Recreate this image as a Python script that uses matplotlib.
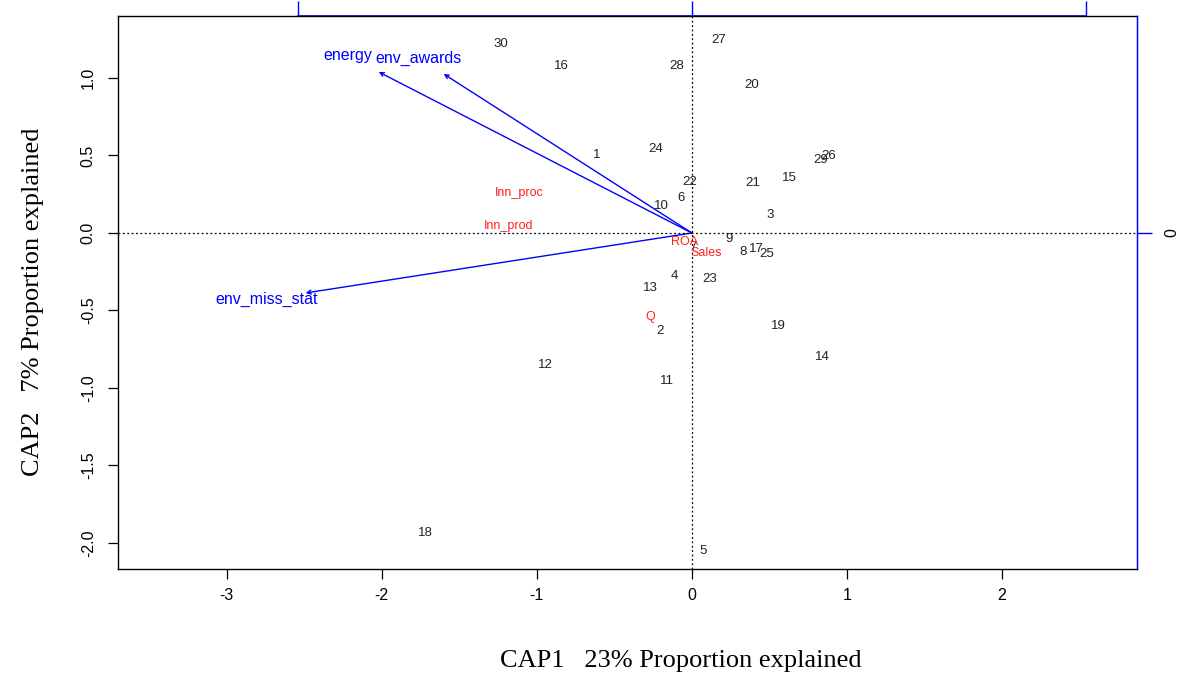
import matplotlib
matplotlib.use('Agg')
import matplotlib.pyplot as plt
from matplotlib.patches import FancyArrowPatch

# ---- data ----
site_ids = [str(i) for i in range(1, 31)]
site_x = [-0.613, -0.206, 0.503, -0.110, 0.071, -0.071, 0.006, 0.329, 0.239, -0.194,
          -0.161, -0.942, -0.265, 0.839, 0.632, -0.839, 0.413, -1.716, 0.561, 0.387,
          0.394, -0.013, 0.116, -0.232, 0.484, 0.884, 0.174, -0.097, 0.832, -1.232]
site_y = [0.503, -0.632, 0.116, -0.277, -2.052, 0.226, -0.09, -0.123, -0.039, 0.174,
          -0.955, -0.852, -0.355, -0.800, 0.355, 1.077, -0.103, -1.935, -0.600, 0.955,
          0.323, 0.329, -0.297, 0.542, -0.135, 0.497, 1.245, 1.077, 0.471, 1.219]

spec_names = ["Inn_proc", "Inn_prod", "ROA", "Sales", "Q"]
spec_x = [-1.110, -1.181, -0.045, 0.090, -0.271]
spec_y = [0.258, 0.045, -0.058, -0.129, -0.542]

env_names = ["energy", "env_awards", "env_miss_stat"]
env_x = [-2.019, -1.600, -2.490]
env_y = [1.039, 1.026, -0.387]
label_mult = 1.1

arrow_scale = 2.54
top_ticks = [-1, 0, 1]
right_ticks = [0]

x_ticks = [-3, -2, -1, 0, 1, 2]
y_ticks = [-2.0, -1.5, -1.0, -0.5, 0.0, 0.5, 1.0]
xlabel = "CAP1   23% Proportion explained"
ylabel = "CAP2   7% Proportion explained"

# ---- figure ----
fig = plt.figure(figsize=(11.83, 6.77), dpi=100)
ax = fig.add_axes([118/1183, 1-569/677, (1137-118)/1183, (569-16)/677])
ax.set_xlim(-3.70, 2.87)
ax.set_ylim(-2.168, 1.40)

ax.axhline(0, color='black', ls=(0, (1.5, 2)), lw=0.9)
ax.axvline(0, color='black', ls=(0, (1.5, 2)), lw=0.9)

for s, x, y in zip(site_ids, site_x, site_y):
    ax.text(x, y, s, fontsize=9.5, color='#222222', ha='center', va='center',
            family='Liberation Sans')

for s, x, y in zip(spec_names, spec_x, spec_y):
    ax.text(x, y, s, fontsize=9, color='#ff2020', ha='center', va='center',
            family='Liberation Sans')

for s, x, y in zip(env_names, env_x, env_y):
    arr = FancyArrowPatch((0, 0), (x, y), arrowstyle='->', mutation_scale=7,
                          color='blue', lw=1.0, shrinkA=0, shrinkB=0)
    ax.add_patch(arr)
    ax.text(x*label_mult, y*label_mult, s, fontsize=11.5, color='blue',
            ha='center', va='center', family='Liberation Sans')

ax.set_xticks(x_ticks)
ax.set_xticklabels([str(t) for t in x_ticks], family='Liberation Sans')
ax.set_yticks(y_ticks)
ax.set_yticklabels([f"{t:.1f}" for t in y_ticks], family='Liberation Sans',
                   rotation=90, va='center')
ax.tick_params(axis='both', direction='out', length=7, width=0.9, labelsize=11.5,
               color='black')
ax.tick_params(axis='x', pad=7)
ax.tick_params(axis='y', pad=9)

for sp in ['left', 'bottom', 'top']:
    ax.spines[sp].set_color('black')
    ax.spines[sp].set_linewidth(1.0)
ax.spines['right'].set_color('blue')
ax.spines['right'].set_linewidth(1.0)

secx = ax.secondary_xaxis('top', functions=(lambda v: v/arrow_scale, lambda v: v*arrow_scale))
secx.set_xticks(top_ticks)
secx.set_xticklabels([])
secx.tick_params(direction='out', length=11, color='blue', width=1.0)
secx.spines['top'].set_color('blue')
secx.spines['top'].set_linewidth(1.2)
secx.spines['top'].set_bounds(top_ticks[0], top_ticks[-1])

secy = ax.secondary_yaxis('right', functions=(lambda v: v/arrow_scale, lambda v: v*arrow_scale))
secy.set_yticks(right_ticks)
secy.set_yticklabels([str(t) for t in right_ticks], rotation=90, va='center',
                     family='Liberation Sans')
secy.tick_params(direction='out', length=11, color='blue', width=1.0, labelsize=11.5, pad=9)
secy.spines['right'].set_color('blue')

ax.set_xlabel(xlabel, family='Liberation Serif', fontsize=19)
ax.set_ylabel(ylabel, family='Liberation Serif', fontsize=19)
ax.xaxis.set_label_coords(0.5525, -0.146)
ax.yaxis.set_label_coords(-0.0725, 0.483)

fig.savefig('out.png', dpi=100)
